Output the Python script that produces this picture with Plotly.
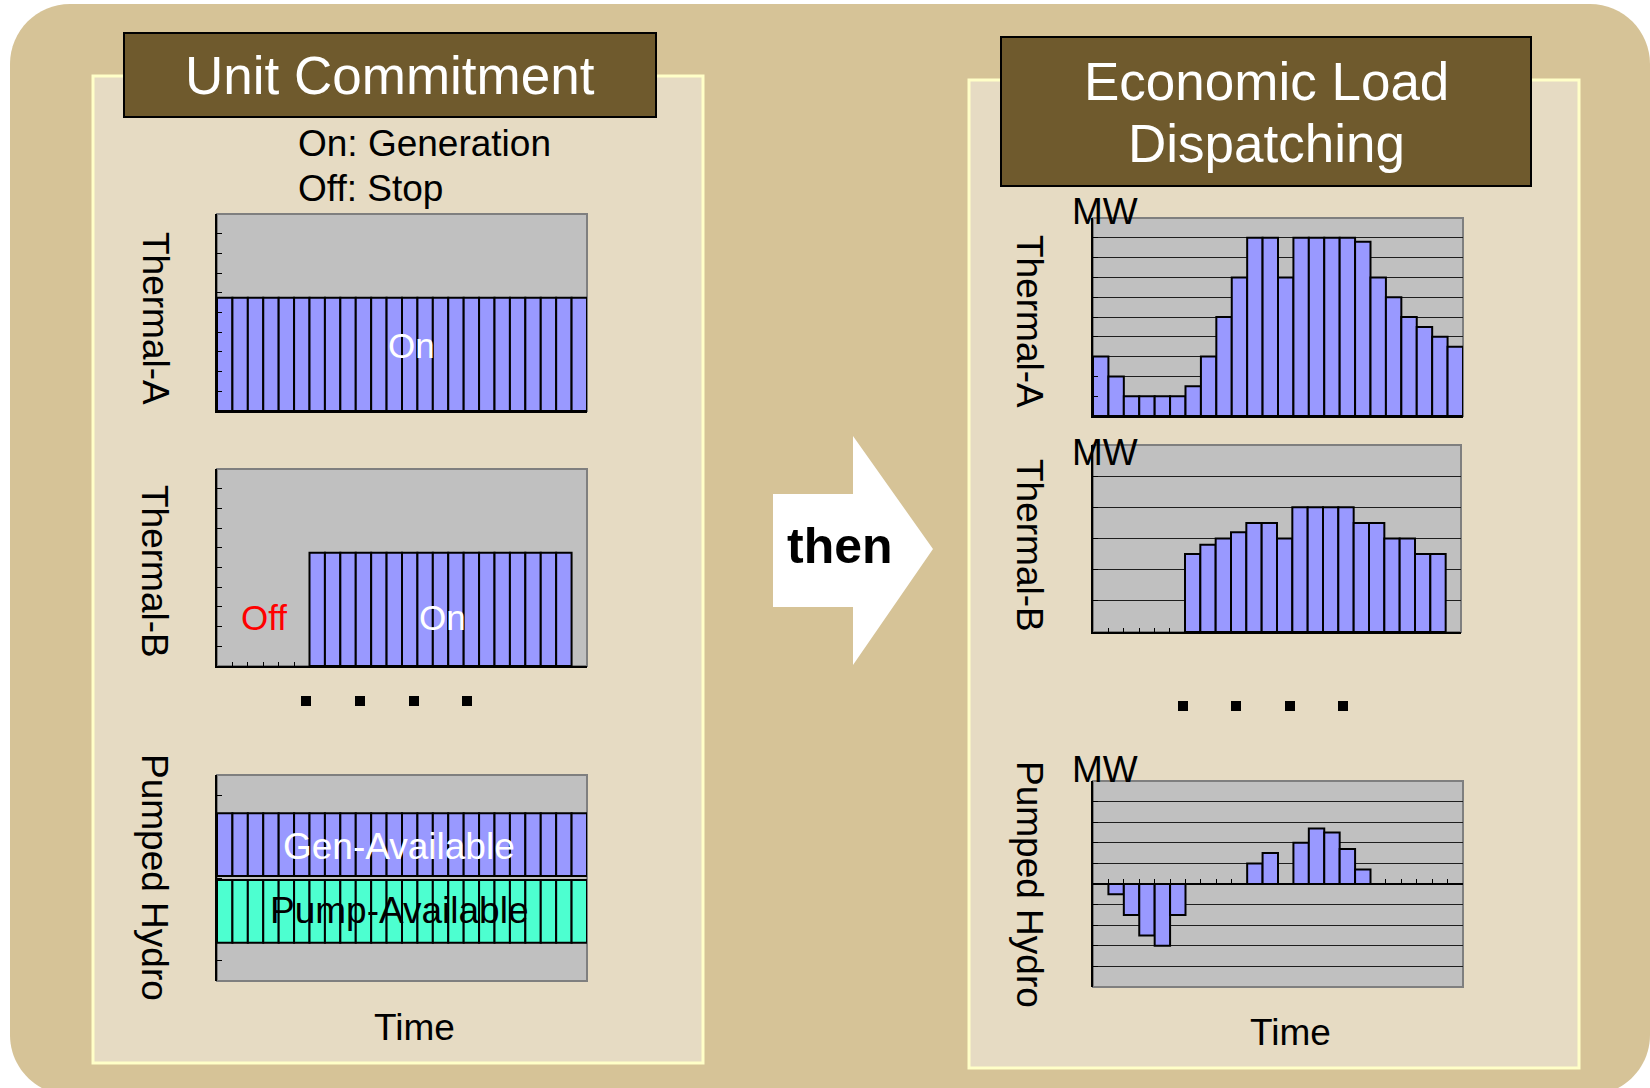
import plotly.graph_objects as go

W, H = 1650, 1088

# ---------------------------------------------------------------- data
hours = list(range(1, 25))

# Unit commitment decisions per hour (1 = on, 0 = off)
thermal_a_status = [1, 1, 1, 1, 1, 1, 1, 1, 1, 1, 1, 1,
                    1, 1, 1, 1, 1, 1, 1, 1, 1, 1, 1, 1]
thermal_b_status = [0, 0, 0, 0, 0, 0, 1, 1, 1, 1, 1, 1,
                    1, 1, 1, 1, 1, 1, 1, 1, 1, 1, 1, 0]
pumped_gen_available = [1, 1, 1, 1, 1, 1, 1, 1, 1, 1, 1, 1,
                        1, 1, 1, 1, 1, 1, 1, 1, 1, 1, 1, 1]
pumped_pump_available = [1, 1, 1, 1, 1, 1, 1, 1, 1, 1, 1, 1,
                         1, 1, 1, 1, 1, 1, 1, 1, 1, 1, 1, 1]

# Economic load dispatch output per hour (MW, relative units)
thermal_a_mw = [3, 2, 1, 1, 1, 1, 1.5, 3, 5, 7, 9, 9,
                7, 9, 9, 9, 9, 8.8, 7, 6, 5, 4.5, 4, 3.5]
thermal_b_mw = [0, 0, 0, 0, 0, 0, 2.5, 2.8, 3.0, 3.2, 3.5, 3.5,
                3.0, 4, 4, 4, 4, 3.5, 3.5, 3, 3, 2.5, 2.5, 0]
pumped_hydro_mw = [0, -0.5, -1.5, -2.5, -3, -1.5, 0, 0, 0, 0, 1.0, 1.5,
                   0, 2.0, 2.7, 2.5, 1.7, 0.7, 0, 0, 0, 0, 0, 0]

# ---------------------------------------------------------------- style
FONT = "Liberation Sans, Arial, sans-serif"
TAN = "#D6C397"
PANEL = "#E6DBC3"
PANEL_EDGE = "#FFFFC8"
TITLE_FILL = "#6F5A2D"
PLOT_GREY = "#C0C0C0"
BLUE = "#9999FF"
TEAL = "#4DFFD0"

STATUS_TOP = 1.74      # y-range top for the on/off charts
PH_SPAN = 1.64         # half-range of the pumped-hydro availability chart
PH_GAP = 0.03          # gap between generation and pumping bands


def px(x):
    return x / W


def py(y):
    return 1 - y / H


def nz(values):
    return [v if v else None for v in values]


# subplot boxes in page pixels: (x0, x1, y_top, y_bottom)
boxes = {
    "la": (217, 587, 214, 411),
    "lb": (217, 587, 469, 666),
    "lp": (217, 587, 775, 981),
    "ra": (1093, 1463, 218, 416),
    "rb": (1093, 1461, 445, 632),
    "rp": (1093, 1463, 781, 987),
}
order = ["la", "lb", "lp", "ra", "rb", "rp"]

fig = go.Figure()
layout = dict(
    width=W, height=H, margin=dict(l=0, r=0, t=0, b=0),
    paper_bgcolor="white", plot_bgcolor="rgba(0,0,0,0)",
    showlegend=False, barmode="overlay",
)

bar_line = dict(color="black", width=2)


def add_axes(i, key, yrange, dtick, grid=False, xline=True, xticks=True,
             ylayer="above traces", xfree_zero=False):
    x0, x1, yt, yb = boxes[key]
    sfx = "" if i == 1 else str(i)
    ydom = [py(yb), py(yt)]
    xa = dict(domain=[px(x0), px(x1)], range=[0.5, 24.5],
              showticklabels=False, ticks="inside" if xticks else "",
              tick0=0.5, dtick=1, ticklen=4, tickwidth=1, tickcolor="black",
              showline=xline, linecolor="black", linewidth=2,
              showgrid=False, zeroline=False, fixedrange=True,
              anchor="y" + sfx)
    if xfree_zero:
        zero_frac = (0 - yrange[0]) / (yrange[1] - yrange[0])
        xa.update(anchor="free",
                  position=ydom[0] + zero_frac * (ydom[1] - ydom[0]))
    ya = dict(domain=ydom, range=yrange, showticklabels=False,
              ticks="inside", tick0=yrange[0], dtick=dtick, ticklen=5,
              tickwidth=1, tickcolor="black", showline=True,
              linecolor="black", linewidth=2, layer=ylayer,
              showgrid=grid, gridcolor="#1E1E1E", gridwidth=1,
              zeroline=False, fixedrange=True, anchor="x" + sfx)
    layout["xaxis" + sfx] = xa
    layout["yaxis" + sfx] = ya
    return "x" + sfx, "y" + sfx


# ---- Unit commitment charts
xr, yr = add_axes(1, "la", [0, STATUS_TOP], STATUS_TOP / 10)
fig.add_trace(go.Bar(x=hours, y=nz(thermal_a_status), width=1,
                     marker=dict(color=BLUE, line=bar_line),
                     xaxis=xr, yaxis=yr, hoverinfo="skip"))

xr, yr = add_axes(2, "lb", [0, STATUS_TOP], STATUS_TOP / 10)
fig.add_trace(go.Bar(x=hours, y=nz(thermal_b_status), width=1,
                     marker=dict(color=BLUE, line=bar_line),
                     xaxis=xr, yaxis=yr, hoverinfo="skip"))

xr, yr = add_axes(3, "lp", [-PH_SPAN, PH_SPAN], 2 * PH_SPAN / 10,
                  xline=False, xticks=False, ylayer="below traces")
fig.add_trace(go.Bar(x=hours, y=nz(pumped_gen_available), base=PH_GAP,
                     width=1, marker=dict(color=BLUE, line=bar_line),
                     xaxis=xr, yaxis=yr, hoverinfo="skip"))
fig.add_trace(go.Bar(x=hours, y=[-v if v else None for v in pumped_pump_available],
                     base=-PH_GAP, width=1,
                     marker=dict(color=TEAL, line=bar_line),
                     xaxis=xr, yaxis=yr, hoverinfo="skip"))

# ---- Economic load dispatch charts
xr, yr = add_axes(4, "ra", [0, 10], 1, grid=True)
fig.add_trace(go.Bar(x=hours, y=nz(thermal_a_mw), width=1,
                     marker=dict(color=BLUE, line=bar_line),
                     xaxis=xr, yaxis=yr, hoverinfo="skip"))

xr, yr = add_axes(5, "rb", [0, 6], 1, grid=True)
fig.add_trace(go.Bar(x=hours, y=nz(thermal_b_mw), width=1,
                     marker=dict(color=BLUE, line=bar_line),
                     xaxis=xr, yaxis=yr, hoverinfo="skip"))

xr, yr = add_axes(6, "rp", [-5, 5], 1, grid=True, xfree_zero=True)
fig.add_trace(go.Bar(x=hours, y=nz(pumped_hydro_mw), width=1,
                     marker=dict(color=BLUE, line=bar_line),
                     xaxis=xr, yaxis=yr, hoverinfo="skip"))

# ---------------------------------------------------------------- shapes


def rounded_rect(x0, y0, x1, y1, r):
    k = 0.5523 * r
    pts = [
        ("M", [(x0 + r, y0)]),
        ("L", [(x1 - r, y0)]),
        ("C", [(x1 - r + k, y0), (x1, y0 + r - k), (x1, y0 + r)]),
        ("L", [(x1, y1 - r)]),
        ("C", [(x1, y1 - r + k), (x1 - r + k, y1), (x1 - r, y1)]),
        ("L", [(x0 + r, y1)]),
        ("C", [(x0 + r - k, y1), (x0, y1 - r + k), (x0, y1 - r)]),
        ("L", [(x0, y0 + r)]),
        ("C", [(x0, y0 + r - k), (x0 + r - k, y0), (x0 + r, y0)]),
    ]
    out = []
    for cmd, ps in pts:
        out.append(cmd + " " + " ".join(f"{px(a):.5f},{py(b):.5f}" for a, b in ps))
    return " ".join(out) + " Z"


def poly(points):
    return "M " + " L ".join(f"{px(a):.5f},{py(b):.5f}" for a, b in points) + " Z"


def rect(x0, y0, x1, y1, fill, line_color=None, line_width=0):
    return dict(type="rect", xref="paper", yref="paper", layer="below",
                x0=px(x0), x1=px(x1), y0=py(y1), y1=py(y0),
                fillcolor=fill,
                line=dict(color=line_color or fill, width=line_width))


shapes = [
    dict(type="path", xref="paper", yref="paper", layer="below",
         path=rounded_rect(10, 4, 1650, 1095, 60), fillcolor=TAN,
         line=dict(width=0)),
    rect(93, 76, 703, 1063, PANEL, PANEL_EDGE, 3),
    rect(969, 80, 1579, 1068, PANEL, PANEL_EDGE, 3),
    rect(124, 33, 656, 117, TITLE_FILL, "black", 2),
    rect(1001, 37, 1531, 186, TITLE_FILL, "black", 2),
    dict(type="path", xref="paper", yref="paper", layer="below",
         path=poly([(773, 494), (853, 494), (853, 436), (933, 549),
                    (853, 665), (853, 607), (773, 607)]),
         fillcolor="white", line=dict(width=0)),
]
for cx in (306, 360, 414, 467):
    shapes.append(rect(cx - 5, 696, cx + 5, 706, "black"))
for cx in (1183, 1236, 1290, 1343):
    shapes.append(rect(cx - 5, 701, cx + 5, 711, "black"))

# grey plotting areas with a thin frame
for i, key in enumerate(order, start=1):
    sfx = "" if i == 1 else str(i)
    shapes.append(dict(type="rect", xref=f"x{sfx} domain", yref=f"y{sfx} domain",
                       layer="below", x0=0, x1=1, y0=0, y1=1,
                       fillcolor=PLOT_GREY, line=dict(color="#7F7F7F", width=2)))
layout["shapes"] = shapes

# ---------------------------------------------------------------- text


def ann(x, y, text, size, color="black", angle=0, bold=False,
        xanchor="center", family=FONT):
    if bold:
        text = f"<b>{text}</b>"
    return dict(xref="paper", yref="paper", x=px(x), y=py(y), text=text,
                showarrow=False, xanchor=xanchor, yanchor="middle",
                textangle=angle, font=dict(family=family, size=size, color=color))


annotations = [
    ann(390, 75, "Unit Commitment", 53, "white"),
    ann(1266, 82, "Economic Load", 53, "white"),
    ann(1266, 143, "Dispatching", 53, "white"),
    ann(296, 143, "On: Generation", 37, xanchor="left"),
    ann(296, 188, "Off: Stop", 37, xanchor="left"),
    ann(155, 318, "Thermal-A", 37, angle=90),
    ann(155, 571, "Thermal-B", 37, angle=90),
    ann(155, 877, "Pumped Hydro", 37, angle=90),
    ann(1030, 321, "Thermal-A", 37, angle=90),
    ann(1030, 545, "Thermal-B", 37, angle=90),
    ann(1030, 884, "Pumped Hydro", 37, angle=90),
    ann(411, 345, "On", 35, "white"),
    ann(264, 617, "Off", 35, "red"),
    ann(442, 617, "On", 35, "white"),
    ann(399, 846, "Gen-Available", 37, "white"),
    ann(399, 910, "Pump-Available", 37, "black"),
    ann(1105, 211, "MW", 37),
    ann(1105, 452, "MW", 37),
    ann(1105, 769, "MW", 37),
    ann(414, 1027, "Time", 37),
    ann(1290, 1032, "Time", 37),
    ann(840, 546, "then", 50, bold=True),
]
layout["annotations"] = annotations

fig.update_layout(**layout)
fig.write_html("out.html", config={"displayModeBar": False})
